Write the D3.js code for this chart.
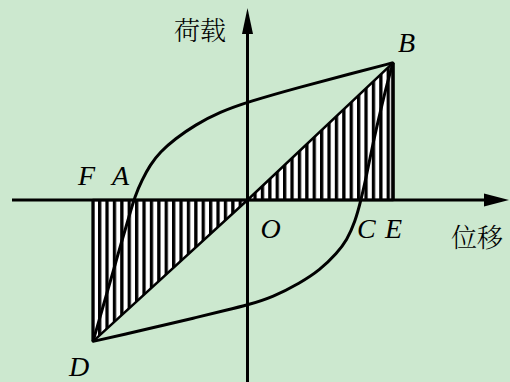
<!DOCTYPE html>
<html>
<head>
<meta charset="utf-8">
<script src="https://cdn.jsdelivr.net/npm/d3@7"></script>
<style>
  html, body { margin: 0; padding: 0; background: #cce8cf; }
  svg { display: block; }
</style>
</head>
<body>
<script>
// ---- data (displacement, load) in arbitrary units ----
const pointB = [9.7, 9.8];
const pointD = [-10.3, -10.1];
const pointA = [-7.63, 0];
const pointC = [7.57, 0];
const pointE = [9.7, 0];
const pointF = [-10.3, 0];
const pointO = [0, 0];

// upper branch: from B back to D
const upperX = [9.7, 6.83, 3.5, 0, -1.83, -3.5, -4.83, -5.83, -6.5, -7.03, -7.5, -7.9, -8.4, -8.9, -9.37, -9.83, -10.3];
const upperY = [9.8, 9.0, 8.07, 7.0, 6.29, 5.36, 4.36, 3.43, 2.5, 1.43, 0.3, -1.2, -3.0, -4.9, -6.64, -8.36, -10.1];
// lower branch: from D to B
const lowerX = [-10.3, -8.03, -5.83, -3.63, -1.37, 0, 1.7, 3.5, 4.83, 5.97, 6.63, 7.17, 7.57, 7.97, 8.37, 8.83, 9.37, 9.7];
const lowerY = [-10.1, -9.55, -9.0, -8.45, -7.86, -7.5, -6.93, -5.93, -5.0, -3.79, -2.86, -1.57, 0, 1.93, 4.07, 6.21, 8.57, 9.8];

const labels = [
  { t: "B", p: pointB },
  { t: "D", p: pointD },
  { t: "A", p: pointA },
  { t: "F", p: pointF },
  { t: "C", p: pointC },
  { t: "E", p: pointE },
  { t: "O", p: pointO }
];
const yAxisTitle = "荷载";
const xAxisTitle = "位移";

// ---- drawing ----
const W = 510, H = 382;
const svg = d3.select("body").append("svg").attr("width", W).attr("height", H);
svg.append("rect").attr("width", W).attr("height", H).attr("fill", "#cce8cf");

const x = d3.scaleLinear().domain([-10, 10]).range([97.5, 397.5]);
const y = d3.scaleLinear().domain([-10, 10]).range([340, 60]);

const defs = svg.append("defs");
const pat = defs.append("pattern").attr("id", "hatch")
  .attr("patternUnits", "userSpaceOnUse")
  .attr("x", x(0) - 1.5).attr("width", 7.4).attr("height", 10);
pat.append("rect").attr("width", 7.4).attr("height", 10).attr("fill", "#fff");
pat.append("rect").attr("width", 3.3).attr("height", 10).attr("fill", "#000");

const poly = d3.line().x(d => x(d[0])).y(d => y(d[1]));

// hatched triangles
svg.append("path").attr("d", poly([pointO, pointB, pointE]) + "Z")
  .attr("fill", "url(#hatch)").attr("stroke", "#000").attr("stroke-width", 2.5).attr("stroke-linejoin", "round");
svg.append("path").attr("d", poly([pointO, pointD, pointF]) + "Z")
  .attr("fill", "url(#hatch)").attr("stroke", "#000").attr("stroke-width", 2.5).attr("stroke-linejoin", "round");
svg.append("path").attr("d", poly([pointB, pointE])).attr("stroke", "#000").attr("stroke-width", 3.5);
svg.append("path").attr("d", poly([pointD, pointF])).attr("stroke", "#000").attr("stroke-width", 3);

// axes
const x0 = x(0), y0 = y(0);
svg.append("line").attr("x1", 12).attr("x2", 490).attr("y1", y0).attr("y2", y0)
  .attr("stroke", "#000").attr("stroke-width", 3);
svg.append("path").attr("d", `M${509},${y0} L${484},${y0 - 6.5} L${484},${y0 + 6.5} Z`).attr("fill", "#000");
svg.append("line").attr("x1", x0).attr("x2", x0).attr("y1", 28).attr("y2", H)
  .attr("stroke", "#000").attr("stroke-width", 3);
svg.append("path").attr("d", `M${x0},${8} L${x0 - 5.5},${34} L${x0 + 5.5},${34} Z`).attr("fill", "#000");

// hysteresis curves
const curve = d3.line().x(d => x(d[0])).y(d => y(d[1])).curve(d3.curveBasis);
const upper = upperX.map((v, i) => [v, upperY[i]]);
const lower = lowerX.map((v, i) => [v, lowerY[i]]);
svg.append("path").attr("d", curve(upper)).attr("fill", "none").attr("stroke", "#000").attr("stroke-width", 3);
svg.append("path").attr("d", curve(lower)).attr("fill", "none").attr("stroke", "#000").attr("stroke-width", 3);

// point labels
const offs = { B: [5, -11], D: [-24, 35], A: [-21, -15], F: [-15, -15], C: [-4, 38], E: [-8, 38], O: [13, 38] };
svg.selectAll("text.pt").data(labels).join("text").attr("class", "pt")
  .attr("x", d => x(d.p[0]) + offs[d.t][0])
  .attr("y", d => y(d.p[1]) + offs[d.t][1])
  .attr("font-family", "'Liberation Serif', 'Times New Roman', serif")
  .attr("font-style", "italic")
  .attr("font-size", 28)
  .attr("fill", "#000")
  .text(d => d.t);

// axis titles
for (const [t, tx, ty] of [[yAxisTitle, 174, 40], [xAxisTitle, 451, 247]]) {
  svg.append("text").attr("x", tx).attr("y", ty)
    .attr("font-family", "'Noto Serif CJK SC', 'Noto Sans CJK SC', sans-serif")
    .attr("font-size", 26).attr("font-weight", 300).attr("fill", "#000").text(t);
}
</script>
</body>
</html>
